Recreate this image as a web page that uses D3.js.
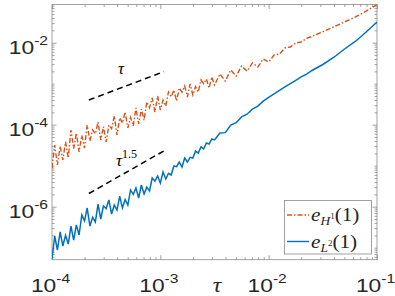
<!DOCTYPE html>
<html>
<head>
<meta charset="utf-8">
<script src="https://cdn.jsdelivr.net/npm/d3@7"></script>
<style>
  body { margin: 0; background: #fff; }
  svg { display: block; }
</style>
</head>
<body>
<script>
// time steps and errors at t = 1
var tau = [
  1.000e-4,1.059e-4,1.122e-4,1.189e-4,1.259e-4,1.334e-4,1.413e-4,1.496e-4,1.585e-4,1.679e-4,
  1.778e-4,1.884e-4,1.995e-4,2.113e-4,2.239e-4,2.371e-4,2.512e-4,2.661e-4,2.818e-4,2.985e-4,
  3.162e-4,3.350e-4,3.548e-4,3.758e-4,3.981e-4,4.217e-4,4.467e-4,4.732e-4,5.012e-4,5.309e-4,
  5.623e-4,5.957e-4,6.310e-4,6.683e-4,7.079e-4,7.499e-4,7.943e-4,8.414e-4,8.913e-4,9.441e-4,
  1.000e-3,1.059e-3,1.122e-3,1.189e-3,1.259e-3,1.334e-3,1.413e-3,1.496e-3,1.585e-3,1.679e-3,
  1.778e-3,1.884e-3,1.995e-3,2.113e-3,2.239e-3,2.371e-3,2.512e-3,2.661e-3,2.818e-3,2.985e-3,
  3.162e-3,3.548e-3,3.981e-3,4.467e-3,5.012e-3,5.623e-3,6.310e-3,7.079e-3,7.943e-3,8.913e-3,
  1.000e-2,1.122e-2,1.259e-2,1.413e-2,1.585e-2,1.778e-2,1.995e-2,2.239e-2,2.512e-2,2.818e-2,
  3.162e-2,3.981e-2,5.012e-2,6.310e-2,7.943e-2,1.000e-1
];

var errH1 = [
  8.79e-6,3.20e-5,1.04e-5,3.00e-5,1.38e-5,3.79e-5,1.54e-5,7.43e-5,2.60e-5,6.28e-5,
  2.16e-5,5.50e-5,2.70e-5,9.83e-5,4.00e-5,7.43e-5,6.00e-5,1.16e-4,4.24e-5,9.00e-5,
  3.79e-5,9.83e-5,8.00e-5,1.63e-4,5.61e-5,1.46e-4,1.10e-4,2.04e-4,8.31e-5,1.50e-4,
  9.30e-5,2.56e-4,1.04e-4,2.40e-4,1.30e-4,3.58e-4,2.60e-4,4.48e-4,2.04e-4,5.01e-4,
  2.28e-4,4.00e-4,2.86e-4,6.28e-4,4.80e-4,7.02e-4,3.79e-4,7.86e-4,6.20e-4,8.79e-4,
  4.74e-4,9.83e-4,5.30e-4,8.50e-4,6.28e-4,1.23e-3,1.00e-3,1.30e-3,7.86e-4,1.46e-3,
  9.30e-4,1.72e-3,1.16e-3,2.16e-3,1.54e-3,2.70e-3,2.04e-3,3.20e-3,2.56e-3,4.00e-3,
  3.38e-3,5.01e-3,5.30e-3,7.43e-3,7.86e-3,9.83e-3,1.04e-2,1.27e-2,1.42e-2,1.63e-2,
  1.85e-2,2.42e-2,3.20e-2,4.24e-2,5.87e-2,8.54e-2
];

var errL2 = [
  5.30e-8,1.93e-7,8.79e-8,2.42e-7,1.10e-7,2.00e-7,1.23e-7,3.38e-7,1.54e-7,3.60e-7,
  2.04e-7,6.28e-7,4.50e-7,9.30e-7,3.38e-7,5.50e-7,4.24e-7,1.16e-6,5.01e-7,1.04e-6,
  9.00e-7,1.46e-6,6.64e-7,1.10e-6,8.31e-7,1.82e-6,9.30e-7,1.50e-6,1.10e-6,2.56e-6,
  2.00e-6,2.86e-6,1.63e-6,3.38e-6,2.04e-6,3.00e-6,2.42e-6,5.01e-6,4.20e-6,5.61e-6,
  3.79e-6,7.02e-6,4.74e-6,6.50e-6,5.93e-6,9.83e-6,9.50e-6,1.23e-5,9.30e-6,1.54e-5,
  1.23e-5,1.60e-5,1.54e-5,2.28e-5,2.04e-5,2.86e-5,2.56e-5,3.58e-5,3.38e-5,4.48e-5,
  4.24e-5,6.28e-5,6.40e-5,9.80e-5,1.12e-4,1.55e-4,1.80e-4,2.40e-4,2.85e-4,3.75e-4,
  4.61e-4,5.61e-4,6.83e-4,8.31e-4,1.01e-3,1.21e-3,1.46e-3,1.72e-3,2.10e-3,2.48e-3,
  2.94e-3,4.36e-3,7.02e-3,1.07e-2,1.82e-2,3.20e-2
];

// reference slopes
var refTau = [2.19e-4, 1.08e-3];
var refOrder1 = [4.0e-4, 1.97e-3];
var refOrder15 = [2.1e-6, 2.3e-5];

var xTicks = [1e-4, 1e-3, 1e-2, 1e-1];
var xTickExp = ['-4', '-3', '-2', '-1'];
var yTicks = [1e-6, 1e-4, 1e-2];
var yTickExp = ['-6', '-4', '-2'];

var W = 395, H = 296;
var pl = 52, pr = 377, pt = 4.5, pb = 259.7;
var orange = '#D95319', blue = '#0072BD', axisCol = '#8a8a8a', textCol = '#262626';

var svg = d3.select('body').append('svg').attr('width', W).attr('height', H);

var x = d3.scaleLog().domain([1e-4, 1e-1]).range([pl, pr]);
var y = d3.scaleLog().domain([5.1e-8, 0.0854]).range([pb, pt]);

// minor tick positions
var xMinor = [], yMinor = [];
for (var e = -4; e < -1; e++) for (var m = 2; m <= 9; m++) xMinor.push(m * Math.pow(10, e));
for (var e2 = -8; e2 <= -1; e2++) for (var m2 = 1; m2 <= 9; m2++) {
  var v = m2 * Math.pow(10, e2);
  if (v >= 5.1e-8 && v <= 0.0854 && !(m2 === 1 && e2 % 2 === 0)) yMinor.push(v);
}

function axisG(ax, tx) {
  var g = svg.append('g').attr('transform', tx).call(ax);
  g.select('.domain').remove();
  g.selectAll('line').attr('stroke', axisCol).attr('stroke-width', 0.8);
  g.selectAll('text').remove();
}
axisG(d3.axisBottom(x).tickValues(xTicks).tickSize(-4.5), 'translate(0,' + pb + ')');
axisG(d3.axisBottom(x).tickValues(xMinor).tickSize(-2.5), 'translate(0,' + pb + ')');
axisG(d3.axisTop(x).tickValues(xTicks).tickSize(-4.5), 'translate(0,' + pt + ')');
axisG(d3.axisTop(x).tickValues(xMinor).tickSize(-2.5), 'translate(0,' + pt + ')');
axisG(d3.axisLeft(y).tickValues(yTicks).tickSize(-4.5), 'translate(' + pl + ',0)');
axisG(d3.axisLeft(y).tickValues(yMinor).tickSize(-2.5), 'translate(' + pl + ',0)');
axisG(d3.axisRight(y).tickValues(yTicks).tickSize(-4.5), 'translate(' + pr + ',0)');
axisG(d3.axisRight(y).tickValues(yMinor).tickSize(-2.5), 'translate(' + pr + ',0)');

svg.append('rect')
  .attr('x', pl).attr('y', pt)
  .attr('width', pr - pl).attr('height', pb - pt)
  .attr('fill', 'none').attr('stroke', axisCol).attr('stroke-width', 0.8);

// tick labels 10^k
var sans = 'Liberation Sans, Arial, sans-serif';
xTicks.forEach(function (t, i) {
  var g = svg.append('g').attr('transform', 'translate(' + (x(t) - 1.5) + ',' + 291.5 + ') scale(1.2,1)');
  var txt = g.append('text').attr('text-anchor', 'middle').attr('font-family', sans)
    .attr('font-size', 19).attr('fill', textCol);
  txt.append('tspan').text('10');
  txt.append('tspan').attr('dy', -9).attr('font-size', 13).text(xTickExp[i]);
});
yTicks.forEach(function (t, i) {
  var g = svg.append('g').attr('transform', 'translate(' + 48 + ',' + (y(t) + 11.5) + ') scale(1.2,1)');
  var txt = g.append('text').attr('text-anchor', 'end').attr('font-family', sans)
    .attr('font-size', 19).attr('fill', textCol);
  txt.append('tspan').text('10');
  txt.append('tspan').attr('dy', -9).attr('font-size', 13).text(yTickExp[i]);
});

var serif = 'Liberation Serif, DejaVu Serif, serif';
svg.append('g').attr('transform', 'translate(217,292) scale(1.2,1)')
  .append('text').attr('text-anchor', 'middle').attr('font-family', serif)
  .attr('font-style', 'italic').attr('font-size', 20).attr('fill', textCol).text('τ');

// data lines
svg.append('clipPath').attr('id', 'clip').append('rect')
  .attr('x', pl).attr('y', pt).attr('width', pr - pl).attr('height', pb - pt);

var line = d3.line()
  .x(function (d) { return x(d[0]); })
  .y(function (d) { return y(d[1]); });

svg.append('path')
  .datum(tau.map(function (t, i) { return [t, errH1[i]]; }))
  .attr('clip-path', 'url(#clip)')
  .attr('d', line).attr('fill', 'none').attr('stroke', orange)
  .attr('stroke-width', 1.4).attr('stroke-dasharray', '5,2,1.5,2');

svg.append('path')
  .datum(tau.map(function (t, i) { return [t, errL2[i]]; }))
  .attr('clip-path', 'url(#clip)')
  .attr('d', line).attr('fill', 'none').attr('stroke', blue)
  .attr('stroke-width', 1.5);

// slope guides
[refOrder1, refOrder15].forEach(function (r) {
  svg.append('path')
    .datum(refTau.map(function (t, i) { return [t, r[i]]; }))
    .attr('d', line).attr('fill', 'none').attr('stroke', '#000')
    .attr('stroke-width', 1.5).attr('stroke-dasharray', '6,4');
});

svg.append('text').attr('x', 121).attr('y', 74).attr('text-anchor', 'middle')
  .attr('font-family', serif).attr('font-style', 'italic').attr('font-size', 17)
  .attr('fill', '#000').text('τ');
var t15 = svg.append('text').attr('x', 116).attr('y', 166)
  .attr('font-family', serif).attr('font-size', 17).attr('fill', '#000');
t15.append('tspan').attr('font-style', 'italic').text('τ');
t15.append('tspan').attr('dy', -8).attr('font-size', 12).text('1.5');

// legend
var lg = svg.append('g');
lg.append('rect').attr('x', 284.5).attr('y', 200.5).attr('width', 87).attr('height', 53.5)
  .attr('fill', '#fff').attr('stroke', axisCol).attr('stroke-width', 0.8);
var entries = [
  { color: orange, dash: '5,2,1.5,2', sub: 'H', sup: '1', y: 215 },
  { color: blue, dash: null, sub: 'L', sup: '2', y: 241.5 }
];
entries.forEach(function (d) {
  lg.append('line').attr('x1', 287).attr('x2', 309).attr('y1', d.y).attr('y2', d.y)
    .attr('stroke', d.color).attr('stroke-width', 1.4)
    .attr('stroke-dasharray', d.dash);
  var g = lg.append('g').attr('transform', 'translate(311,' + (d.y + 6) + ') scale(1.12,1)');
  var t = g.append('text').attr('font-family', serif).attr('font-size', 19).attr('fill', textCol);
  t.append('tspan').attr('font-style', 'italic').text('e');
  t.append('tspan').attr('font-style', 'italic').attr('font-size', 12).attr('dy', 4).text(d.sub);
  t.append('tspan').attr('font-size', 8).attr('dy', -6).text(d.sup);
  t.append('tspan').attr('dy', 2).text('(1)');
});
</script>
</body>
</html>
